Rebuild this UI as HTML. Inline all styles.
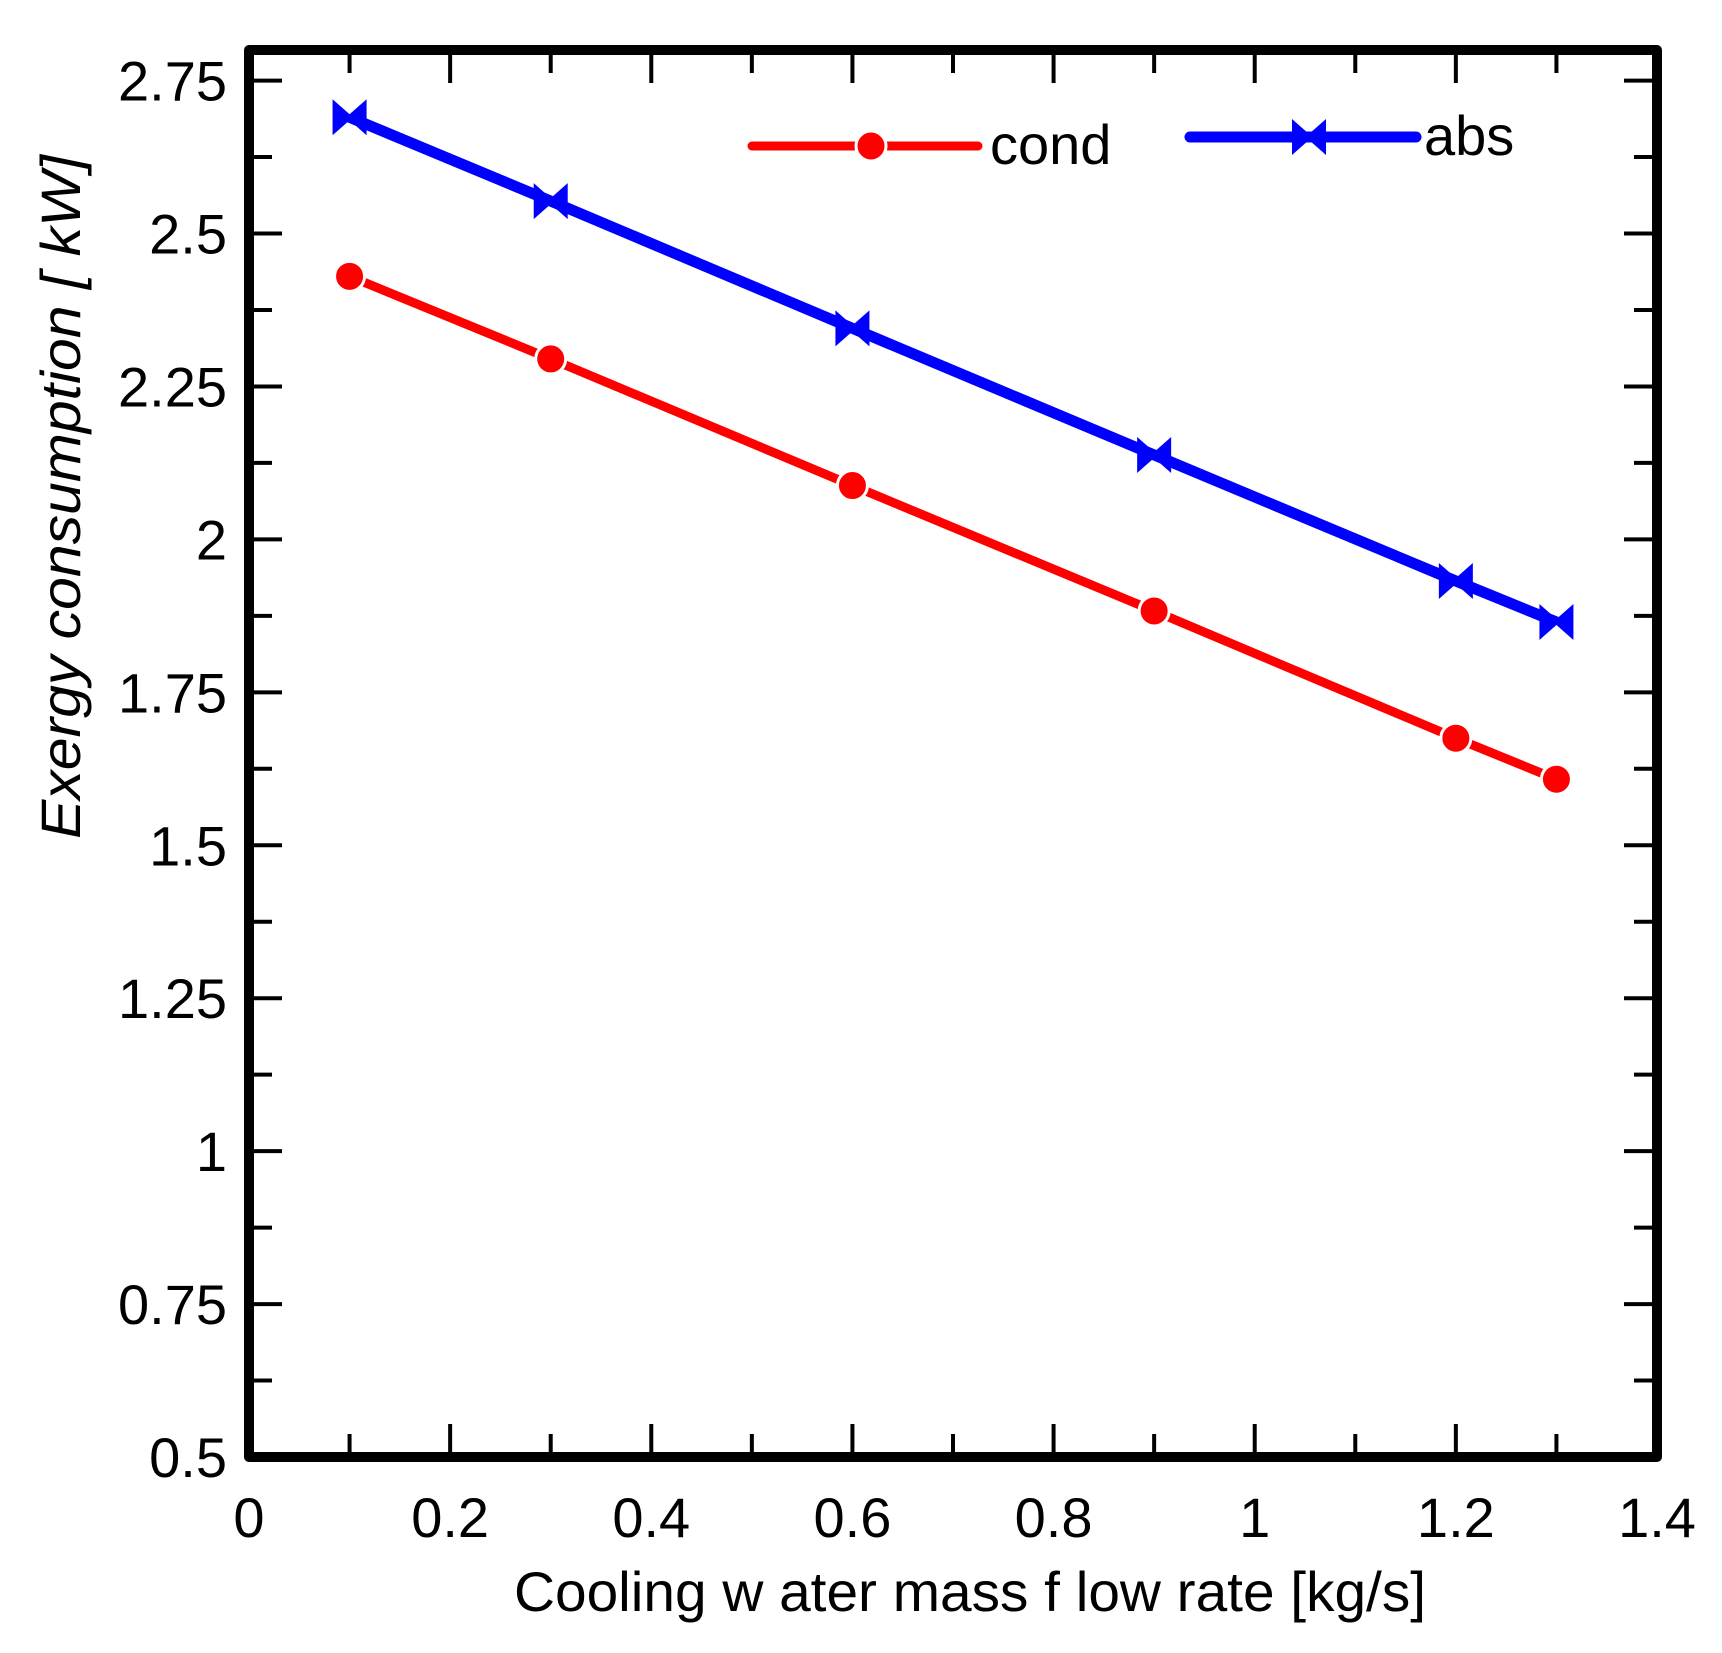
<!DOCTYPE html>
<html><head><meta charset="utf-8"><style>html,body{margin:0;padding:0;background:#fff}svg{display:block}</style></head>
<body>
<svg width="1722" height="1653" viewBox="0 0 1722 1653" xmlns="http://www.w3.org/2000/svg" font-family="Liberation Sans, Arial, sans-serif">
<rect width="1722" height="1653" fill="#fff"/>
<g id="ticks" stroke="#000" stroke-width="4"></g>
<g id="series"></g>
<rect x="249" y="50" width="1408" height="1407" fill="none" stroke="#000" stroke-width="10" stroke-linejoin="round"/>
<g id="labels" font-size="56" fill="#000"></g>
<!-- legend -->
<line x1="752" y1="146" x2="978" y2="146" stroke="#f00" stroke-width="9" stroke-linecap="round"/>
<circle cx="871" cy="146" r="15" fill="#f00" stroke="#fff" stroke-width="3"/>
<text x="990" y="164" font-size="56">cond</text>
<line x1="1190" y1="137" x2="1416" y2="137" stroke="#00f" stroke-width="11" stroke-linecap="round"/>
<polygon points="1292,119 1309,134 1326,119 1326,155 1309,140 1292,155" fill="#00f"/>
<text x="1424" y="155" font-size="56">abs</text>
<text x="970" y="1611" font-size="56" text-anchor="middle" textLength="912" lengthAdjust="spacingAndGlyphs">Cooling w ater mass f low  rate [kg/s]</text>
<text transform="translate(80,497) rotate(-90)" font-size="56" font-style="italic" text-anchor="middle" textLength="684" lengthAdjust="spacingAndGlyphs">Exergy consumption [ kW]</text>
<script>
const NS="http://www.w3.org/2000/svg";
const X=v=>249+v*1408/1.4, Y=v=>1457-(v-0.5)*1407/2.3;
function el(p,t,a,txt){const e=document.createElementNS(NS,t);for(const k in a)e.setAttribute(k,a[k]);if(txt!==undefined)e.textContent=txt;p.appendChild(e);return e;}
const tk=document.getElementById('ticks'),lb=document.getElementById('labels'),se=document.getElementById('series');
for(let i=0;i<=14;i++){const x=X(i*0.1),L=i%2==0?33:23;
 el(tk,'line',{x1:x,y1:1457,x2:x,y2:1457-L});el(tk,'line',{x1:x,y1:50,x2:x,y2:50+L});
 if(i%2==0){const v=i/10;el(lb,'text',{x:x,y:1537,'text-anchor':'middle'},v==0?'0':v==1?'1':v.toFixed(1));}}
for(let i=0;i<=18;i++){const v=0.5+i*0.125,y=Y(v),L=i%2==0?33:23;
 el(tk,'line',{x1:249,y1:y,x2:249+L,y2:y});el(tk,'line',{x1:1657,y1:y,x2:1657-L,y2:y});
 if(i%2==0){let s=String(+v.toFixed(2));el(lb,'text',{x:227,y:y+20,'text-anchor':'end'},s);}}
const xs=[0.1,0.3,0.6,0.9,1.2,1.3];
const cond=[2.43,2.295,2.088,1.883,1.675,1.608];
const abs=[2.69,2.553,2.345,2.138,1.932,1.865];
el(se,'polyline',{points:xs.map((x,i)=>X(x)+','+Y(cond[i])).join(' '),fill:'none',stroke:'#f00','stroke-width':9,'stroke-linejoin':'round'});
xs.forEach((x,i)=>el(se,'circle',{cx:X(x),cy:Y(cond[i]),r:15,fill:'#f00',stroke:'#fff','stroke-width':3}));
el(se,'polyline',{points:xs.map((x,i)=>X(x)+','+Y(abs[i])).join(' '),fill:'none',stroke:'#00f','stroke-width':11,'stroke-linejoin':'round'});
xs.forEach((x,i)=>{const cx=X(x),cy=Y(abs[i]);el(se,'polygon',{points:`${cx-17},${cy-18} ${cx},${cy-3} ${cx+17},${cy-18} ${cx+17},${cy+18} ${cx},${cy+3} ${cx-17},${cy+18}`,fill:'#00f'});});
</script>
</svg>
</body></html>
